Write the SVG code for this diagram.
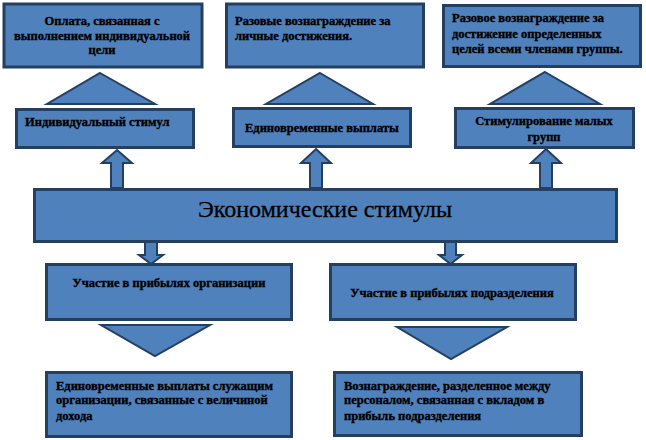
<svg xmlns="http://www.w3.org/2000/svg" width="646" height="440" viewBox="0 0 646 440">
<style>
.box{fill:#4F81BD;stroke:#243F60;stroke-width:3}
.con{fill:#4F81BD;stroke:#243F60;stroke-width:2;stroke-linejoin:miter}
.t{font-weight:bold;font-size:12.5px;fill:#000;stroke:#000;stroke-width:0.35}
.c{text-anchor:middle}
.big{font-size:24px;fill:#000;stroke:#000;stroke-width:0.3;text-anchor:middle}
</style>
<rect width="646" height="440" fill="#fff"/>
<g id="connectors">
<polygon class="con" points="100,73 155,104 47,104"/>
<polygon class="con" points="320,73 373,104 266,104"/>
<polygon class="con" points="545,72 600,104 490,104"/>
<polygon class="con" points="117,150 132,163 123,163 123,188 111,188 111,163 102,163"/>
<polygon class="con" points="316,149 331,163 322,163 322,188 310,188 310,163 301,163"/>
<polygon class="con" points="546,149 561,163 552,163 552,188 540,188 540,163 531,163"/>
<polygon class="con" points="145,242 157,242 157,255 163,255 151,264 139,255 145,255"/>
<polygon class="con" points="445,242 456,242 456,255 462,255 450.5,264 439,255 445,255"/>
<polygon class="con" points="101,325 210,325 155,356"/>
<polygon class="con" points="397,327 507,327 451,359"/>
</g>
<g id="nodes" font-family="'Liberation Serif', 'DejaVu Serif', serif">
<g id="n-b1">
<rect class="box" x="4" y="4" width="198" height="63"/>
<text class="t c" x="102" y="25">Оплата, связанная с</text>
<text class="t c" x="102" y="39.5">выполнением индивидуальной</text>
<text class="t c" x="102" y="54">цели</text>
</g>
<g id="n-b2">
<rect class="box" x="226.5" y="4" width="197" height="63"/>
<text class="t" x="235" y="25">Разовые вознаграждение за</text>
<text class="t" x="235" y="39.5">личные достижения.</text>
</g>
<g id="n-b3">
<rect class="box" x="443.5" y="5.5" width="197" height="61"/>
<text class="t" x="452" y="22">Разовое вознаграждение за</text>
<text class="t" x="452" y="37.5">достижение определенных</text>
<text class="t" x="452" y="53">целей всеми членами группы.</text>
</g>
<g id="n-m1">
<rect class="box" x="16.5" y="109.5" width="177" height="38"/>
<text class="t" x="25" y="126">Индивидуальный стимул</text>
</g>
<g id="n-m2">
<rect class="box" x="233.5" y="108.5" width="177" height="38"/>
<text class="t" x="245" y="132">Единовременные выплаты</text>
</g>
<g id="n-m3">
<rect class="box" x="455.5" y="108.5" width="178" height="39"/>
<text class="t c" x="544" y="125">Стимулирование малых</text>
<text class="t c" x="544" y="140.5">групп</text>
</g>
<g id="n-main">
<rect class="box" x="34.5" y="189.5" width="582" height="52"/>
<text class="big" x="325" y="217">Экономические стимулы</text>
</g>
<g id="n-l1">
<rect class="box" x="46.5" y="264.5" width="245" height="55"/>
<text class="t c" x="169" y="287">Участие в прибылях организации</text>
</g>
<g id="n-l2">
<rect class="box" x="330.5" y="264.5" width="245" height="55"/>
<text class="t c" x="452" y="297">Участие в прибылях подразделения</text>
</g>
<g id="n-bb1">
<rect class="box" x="46.5" y="372.5" width="245" height="64"/>
<text class="t" x="56" y="390">Единовременные выплаты служащим</text>
<text class="t" x="56" y="404">организации, связанные с величиной</text>
<text class="t" x="56" y="420">дохода</text>
</g>
<g id="n-bb2">
<rect class="box" x="334.5" y="372.5" width="247" height="63"/>
<text class="t" x="344" y="390">Вознаграждение, разделенное между</text>
<text class="t" x="344" y="404">персоналом, связанная с вкладом в</text>
<text class="t" x="344" y="420">прибыль подразделения</text>
</g>
</g>
</svg>
